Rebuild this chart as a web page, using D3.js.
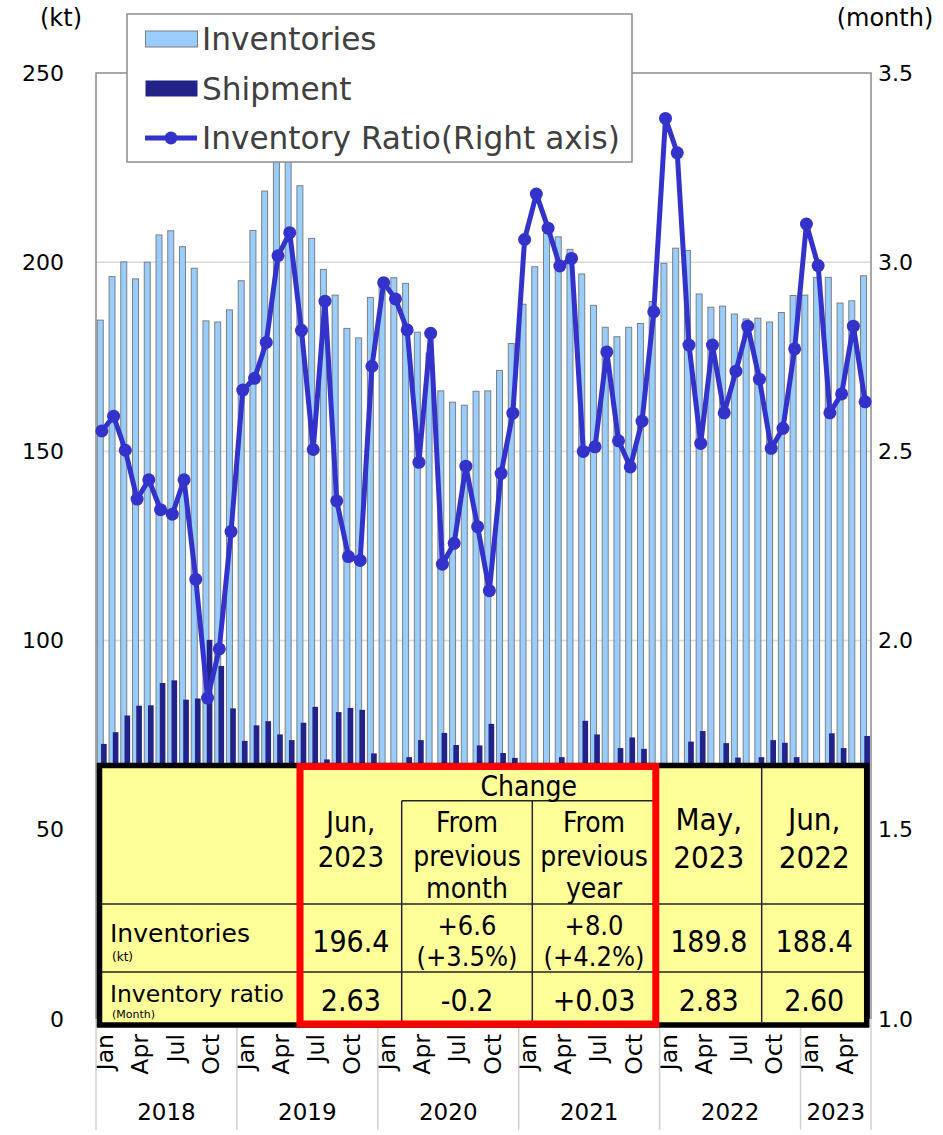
<!DOCTYPE html>
<html>
<head>
<meta charset="utf-8">
<script src="https://cdn.jsdelivr.net/npm/d3@7/dist/d3.min.js"></script>
<style>
	body { margin: 0; background: #fff; }
	svg { display: block; font-family: "DejaVu Sans", Verdana, sans-serif; }
	.cond { font-family: "DejaVu Sans Condensed", "DejaVu Sans", sans-serif; font-stretch: condensed; }
</style>
</head>
<body>
<svg id="chart" width="943" height="1135"></svg>
<script>
// monthly data, Jan 2018 .. Jun 2023
const years = [2018, 2019, 2020, 2021, 2022, 2023];
const monthsPerYear = [12, 12, 12, 12, 12, 6];
const monthTicks = ["Jan", "", "", "Apr", "", "", "Jul", "", "", "Oct", "", ""];

const inventories = [
	184.7, 196.2, 200.1, 195.6, 200.0, 207.2, 208.3, 204.1, 198.4, 184.5, 184.2, 187.4,
	195.1, 208.4, 218.8, 227.5, 227.0, 220.2, 206.3, 198.1, 191.3, 182.5, 180.0, 190.7,
	195.5, 195.9, 194.4, 181.5, 176.0, 166.0, 163.0, 162.2, 165.9, 166.0, 171.4, 178.5,
	188.9, 198.8, 207.6, 206.7, 203.4, 196.9, 188.6, 182.8, 180.3, 182.8, 183.8, 189.6,
	199.7, 203.7, 203.1, 191.6, 188.1, 188.4, 186.3, 185.0, 185.2, 184.2, 186.7, 191.2,
	191.3, 196.0, 196.0, 189.2, 189.8, 196.4
];
const shipment = [
	72.7, 75.8, 80.2, 82.8, 82.9, 88.8, 89.5, 84.4, 84.7, 100.2, 93.3, 82.1,
	73.5, 77.6, 78.7, 75.2, 73.7, 78.3, 82.5, 68.6, 81.1, 82.2, 81.7, 70.2,
	66.4, 67.5, 69.2, 73.7, 62.6, 75.6, 72.4, 65.9, 72.3, 78.0, 70.3, 69.0,
	61.7, 62.5, 67.2, 69.2, 67.6, 78.8, 75.2, 66.2, 71.6, 74.4, 71.4, 66.0,
	59.1, 61.9, 73.3, 76.1, 67.6, 72.9, 69.1, 65.3, 69.2, 73.7, 73.0, 69.2,
	61.7, 65.5, 75.5, 71.6, 67.0, 74.8
];
const ratio = [
	2.554, 2.593, 2.503, 2.374, 2.425, 2.346, 2.334, 2.425, 2.162, 1.848, 1.978, 2.288,
	2.662, 2.693, 2.788, 3.017, 3.078, 2.820, 2.505, 2.897, 2.369, 2.222, 2.212, 2.725,
	2.946, 2.903, 2.821, 2.471, 2.812, 2.202, 2.257, 2.461, 2.301, 2.132, 2.442, 2.601,
	3.060, 3.180, 3.090, 2.990, 3.010, 2.500, 2.512, 2.763, 2.528, 2.459, 2.580, 2.869,
	3.380, 3.289, 2.781, 2.521, 2.781, 2.602, 2.712, 2.831, 2.691, 2.508, 2.561, 2.771,
	3.101, 2.991, 2.602, 2.652, 2.831, 2.631
];

const leftTicks = [0, 50, 100, 150, 200, 250];
const rightTicks = [1.0, 1.5, 2.0, 2.5, 3.0, 3.5];

// summary table
const tableHead = ["Jun,|2023", "From|previous|month", "From|previous|year", "May,|2023", "Jun,|2022"];
const rowInventories = ["196.4", "+6.6|(+3.5%)", "+8.0|(+4.2%)", "189.8", "188.4"];
const rowRatio = ["2.63", "-0.2", "+0.03", "2.83", "2.60"];

const C_INV = "#99ccff", C_SHIP = "#222288", C_LINE = "#3333cc";
const X0 = 96, X1 = 871, Y0 = 1019, Y1 = 73;

const svg = d3.select("#chart");
const n = inventories.length;
const x = d3.scaleBand().domain(d3.range(n)).range([X0, X1]);
const step = x.step();
const yL = d3.scaleLinear().domain([0, 250]).range([Y0, Y1]);
const yR = d3.scaleLinear().domain([1.0, 3.5]).range([Y0, Y1]);

// grid + frame
svg.append("g").selectAll("line").data(leftTicks.slice(1, -1)).join("line")
	.attr("x1", X0).attr("x2", X1).attr("y1", yL).attr("y2", yL)
	.attr("stroke", "#d9d9d9").attr("stroke-width", 1.5);
svg.append("path")
	.attr("d", `M${X0},${Y0}V${Y1}H${X1}V${Y0}`)
	.attr("fill", "none").attr("stroke", "#8c8c8c").attr("stroke-width", 1.5);

// bars
svg.append("g").selectAll("rect").data(inventories).join("rect")
	.attr("x", (d, i) => x(i) + step * 0.11)
	.attr("width", step * 0.51)
	.attr("y", d => yL(d))
	.attr("height", d => Y0 - yL(d))
	.attr("fill", C_INV).attr("stroke", "#7f7f7f").attr("stroke-width", 1);
svg.append("g").selectAll("rect").data(shipment).join("rect")
	.attr("x", (d, i) => x(i) + step * 0.43)
	.attr("width", step * 0.48)
	.attr("y", d => yL(d))
	.attr("height", d => Y0 - yL(d))
	.attr("fill", C_SHIP);

// ratio line
const line = d3.line().x((d, i) => x(i) + step / 2).y(d => yR(d));
svg.append("path").datum(ratio)
	.attr("d", line).attr("fill", "none")
	.attr("stroke", C_LINE).attr("stroke-width", 5).attr("stroke-linejoin", "round");
svg.append("g").selectAll("circle").data(ratio).join("circle")
	.attr("cx", (d, i) => x(i) + step / 2).attr("cy", d => yR(d))
	.attr("r", 6.5).attr("fill", C_LINE);

// axes
const axL = svg.append("g").attr("transform", `translate(${X0},0)`)
	.call(d3.axisLeft(yL).tickValues(leftTicks).tickSize(0).tickPadding(32));
const axR = svg.append("g").attr("transform", `translate(${X1},0)`)
	.call(d3.axisRight(yR).tickValues(rightTicks).tickSize(0).tickPadding(7).tickFormat(d3.format(".1f")));
[axL, axR].forEach(g => {
	g.select(".domain").remove();
	g.selectAll("text").attr("font-size", 22).attr("font-family", "DejaVu Sans").attr("fill", "#000");
});
svg.append("text").attr("x", 61).attr("y", 26).attr("text-anchor", "middle")
	.attr("font-size", 24).text("(kt)");
svg.append("text").attr("x", 885).attr("y", 26).attr("text-anchor", "middle")
	.attr("font-size", 24).text("(month)");

// month / year labels
const monthIdx = d3.range(n).filter(i => monthTicks[i % 12]);
svg.append("g").selectAll("text").data(monthIdx).join("text")
	.attr("transform", i => `translate(${x(i) + step / 2 + 3},1034) rotate(-90)`)
	.attr("dy", "0.35em").attr("text-anchor", "end")
	.attr("font-size", 23.5).text(i => monthTicks[i % 12]);

const yearStart = d3.cumsum([0, ...monthsPerYear]);
svg.append("g").selectAll("line").data(yearStart).join("line")
	.attr("x1", i => i < n ? x(i) : X1).attr("x2", i => i < n ? x(i) : X1)
	.attr("y1", Y0).attr("y2", 1130)
	.attr("stroke", "#d0d0d0").attr("stroke-width", 1.5);
svg.append("g").selectAll("text").data(years).join("text")
	.attr("x", (d, k) => {
		const a = x(yearStart[k]);
		const b = yearStart[k + 1] < n ? x(yearStart[k + 1]) : X1;
		return (a + b) / 2;
	})
	.attr("y", 1120).attr("text-anchor", "middle")
	.attr("font-size", 23).text(d => d);

// table overlay
const tb = svg.append("g");
const colX = [100, 300, 401.7, 532.3, 655.8, 761.7, 866.7];
const colMid = k => (colX[k] + colX[k + 1]) / 2;
tb.append("rect").attr("x", 99.5).attr("y", 765.5).attr("width", 767.2).attr("height", 259.5)
	.attr("fill", "#ffff99").attr("stroke", "#000").attr("stroke-width", 5.5);
const thin = [
	[401.7, 800.7, 655.8, 800.7],
	[401.7, 800.7, 401.7, 1022],
	[532.3, 800.7, 532.3, 1022],
	[761.7, 768, 761.7, 1022],
	[102, 904, 864, 904],
	[102, 972, 864, 972]
];
tb.selectAll("line").data(thin).join("line")
	.attr("x1", d => d[0]).attr("y1", d => d[1]).attr("x2", d => d[2]).attr("y2", d => d[3])
	.attr("stroke", "#222").attr("stroke-width", 1.5);
tb.append("rect").attr("x", 300).attr("y", 766.5).attr("width", 355.8).attr("height", 257.5)
	.attr("fill", "none").attr("stroke", "#ff0000").attr("stroke-width", 7);

function multiline(g, str, cx, baselines, size, cls) {
	str.split("|").forEach((s, j) => {
		g.append("text").attr("class", cls).attr("x", cx).attr("y", baselines[j])
			.attr("text-anchor", "middle").attr("font-size", size).text(s);
	});
}
tb.append("text").attr("class", "cond").attr("x", (colX[2] + colX[4]) / 2).attr("y", 796)
	.attr("text-anchor", "middle").attr("font-size", 28).text("Change");
tableHead.forEach((h, k) => {
	const big = k >= 3;
	const three = h.split("|").length === 3;
	multiline(tb, h, colMid(k + 1), three ? [832, 866, 898] : (big ? [830, 868] : [832, 867]),
		big ? 31 : (k === 0 ? 29 : 28), "cond");
});
rowInventories.forEach((v, k) => {
	const parts = v.split("|");
	multiline(tb, v, colMid(k + 1), parts.length === 2 ? [935, 966] : [952], parts.length === 2 ? 27 : 30, "cond");
});
rowRatio.forEach((v, k) => multiline(tb, v, colMid(k + 1), [1011], 30, "cond"));
tb.append("text").attr("x", 110).attr("y", 942).attr("font-size", 25).text("Inventories");
tb.append("text").attr("x", 112).attr("y", 961).attr("font-size", 12).text("(kt)");
tb.append("text").attr("x", 110).attr("y", 1002).attr("font-size", 23.5).text("Inventory ratio");
tb.append("text").attr("x", 112).attr("y", 1018).attr("font-size", 11).text("(Month)");

// legend
const lg = svg.append("g");
lg.append("rect").attr("x", 127).attr("y", 14).attr("width", 505).attr("height", 148)
	.attr("fill", "#fff").attr("stroke", "#8c8c8c").attr("stroke-width", 1.5);
const legendItems = ["Inventories", "Shipment", "Inventory Ratio(Right axis)"];
legendItems.forEach((name, k) => {
	const cy = 39 + k * 49.5;
	if (k < 2) {
		lg.append("rect").attr("x", 145.5).attr("y", cy - 8).attr("width", 52).attr("height", 16)
			.attr("fill", k === 0 ? C_INV : C_SHIP).attr("stroke", k === 0 ? "#7f7f7f" : "none");
	} else {
		lg.append("line").attr("x1", 145).attr("x2", 197).attr("y1", cy).attr("y2", cy)
			.attr("stroke", C_LINE).attr("stroke-width", 5);
		lg.append("circle").attr("cx", 171).attr("cy", cy).attr("r", 6.5).attr("fill", C_LINE);
	}
	lg.append("text").attr("x", 202).attr("y", cy + 11).attr("font-size", 31.2)
		.attr("fill", "#404040").text(name);
});
</script>
</body>
</html>
